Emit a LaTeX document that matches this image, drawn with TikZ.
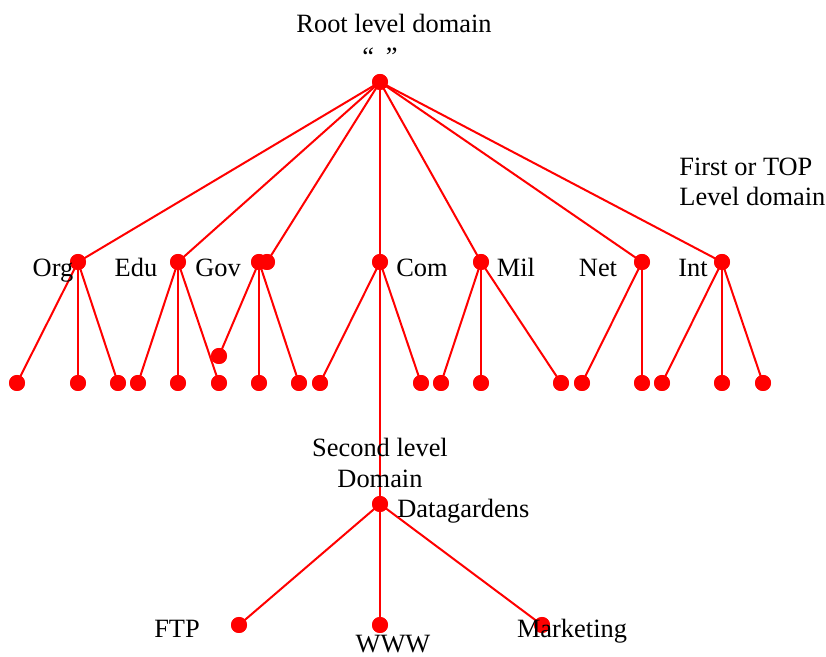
\documentclass[tikz,border=0pt]{standalone}
\usepackage{fontspec}
\setmainfont{Liberation Serif}
\begin{document}
\begin{tikzpicture}[x=0.5pt,y=-0.5pt,
  dot/.style={circle,fill=red,draw=none,minimum size=8pt,inner sep=0pt},
  edge/.style={draw=red,line width=1pt},
  lbl/.style={anchor=base,inner sep=0pt,font=\fontsize{13.2}{15.5}\selectfont},
  lblw/.style={anchor=base west,inner sep=0pt,font=\fontsize{13.2}{15.5}\selectfont}]
\useasboundingbox (0,0) rectangle (826,657);

% root
\node[dot] (root) at (380,82) {};

% top level domains
\node[dot] (org) at (78,262) {};
\node[dot] (edu) at (178,262) {};
\node[dot] (gova) at (259,262) {};
\node[dot] (govb) at (267,262) {};
\node[dot] (com) at (380,262) {};
\node[dot] (mil) at (481,262) {};
\node[dot] (net) at (642,262) {};
\node[dot] (int) at (722,262) {};

% leaves under the top level domains
\foreach \n/\x in {a/17,b/78,c/118,d/138,e/178,f/219,g/259,h/299,i/320,j/421,k/441,l/481,m/561,n/582,o/642,p/662,q/722,r/763}
  \node[dot] (leaf\n) at (\x,383) {};
\node[dot] (govx) at (219,356) {};

% second level
\node[dot] (dg) at (380,504) {};
\node[dot] (ftp) at (239,625) {};
\node[dot] (www) at (380,625) {};
\node[dot] (mkt) at (542,625) {};

% connectors
\foreach \t in {org,edu,govb,com,mil,net,int}
  \draw[edge] (root.center) -- (\t.center);
\foreach \a/\b in {org/leafa,org/leafb,org/leafc,
                   edu/leafd,edu/leafe,edu/leaff,
                   gova/govx,gova/leafg,gova/leafh,
                   com/leafi,com/leafj,com/dg,
                   mil/leafk,mil/leafl,mil/leafm,
                   net/leafn,net/leafo,
                   int/leafp,int/leafq,int/leafr,
                   dg/ftp,dg/www,dg/mkt}
  \draw[edge] (\a.center) -- (\b.center);

% dots drawn over the connectors
\foreach \t in {root,org,edu,gova,govb,com,mil,net,int,govx,dg,ftp,www,mkt,
                leafa,leafb,leafc,leafd,leafe,leaff,leafg,leafh,leafi,leafj,
                leafk,leafl,leafm,leafn,leafo,leafp,leafq,leafr}
  \fill[red] (\t.center) circle[radius=4pt];

% labels
\node[lbl] (tRoot) at (394,33) {Root level domain};
\node[lbl] (tQuote) at (380,66) {“\hspace{6pt}”};
\node[lblw] (tFirst) at (679,176) {First or TOP};
\node[lblw] (tLevel) at (679,206) {Level domain};
\node[lbl] (tOrg) at (53,277) {Org};
\node[lbl] (tEdu) at (136,277) {Edu};
\node[lbl] (tGov) at (218,277) {Gov};
\node[lbl] (tCom) at (422,277) {Com};
\node[lbl] (tMil) at (516,277) {Mil};
\node[lbl] (tNet) at (598,277) {Net};
\node[lbl] (tInt) at (693,277) {Int};
\node[lbl] (tSecond) at (380,457) {Second level};
\node[lbl] (tDomain) at (380,488) {Domain};
\node[lblw] (tDg) at (397,518) {Datagardens};
\node[lbl] (tFtp) at (177,638) {FTP};
\node[lbl] (tWww) at (393,653) {WWW};
\node[lbl] (tMkt) at (572,638) {Marketing};
\end{tikzpicture}
\end{document}
